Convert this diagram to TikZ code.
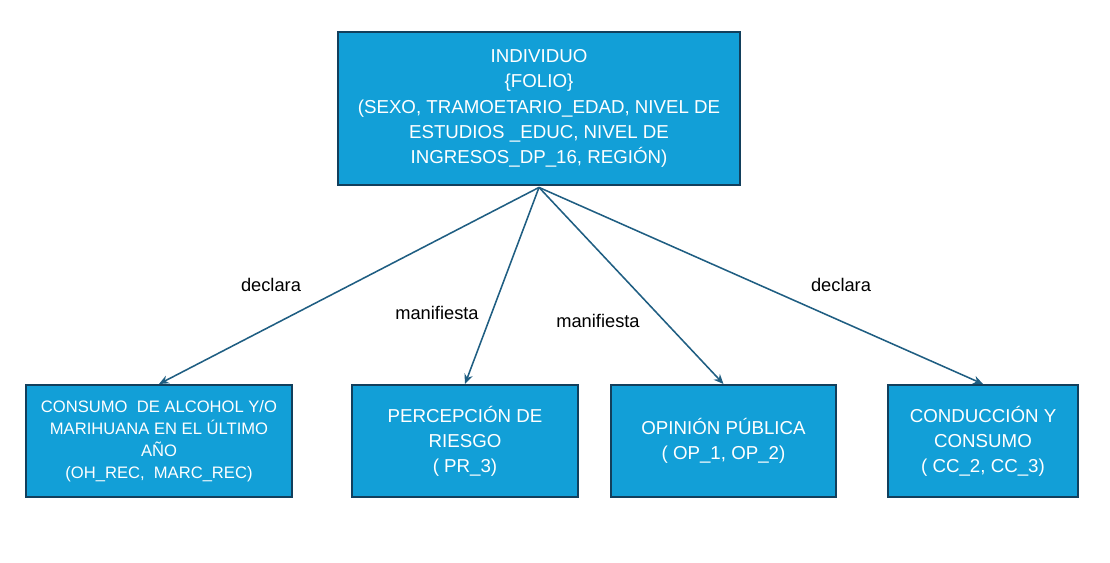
\documentclass[tikz,border=0pt]{standalone}
\usepackage{fontspec}
\setmainfont{Liberation Sans}
\usepackage{xcolor}
\usepackage{tikz}
\usetikzlibrary{arrows.meta,positioning}
\definecolor{boxFill}{HTML}{129FD7}
\definecolor{boxEdge}{HTML}{123F5C}
\definecolor{linkBlue}{HTML}{1F5E82}

\begin{document}
\begin{tikzpicture}[
        x=0.025cm, y=-0.025cm,
        font=\fontsize{13.3}{17.9}\selectfont,
        entity/.style={draw=boxEdge, line width=1.4pt, fill=boxFill, text=white, inner sep=0pt, minimum height=2.8cm, align=center},
        small/.style={font=\fontsize{11.8}{15.6}\selectfont},
        rel/.style={-{Stealth[length=7pt,width=6pt]}, line width=1.1pt, draw=linkBlue},
        tag/.style={font=\fontsize{13}{16}\selectfont}
    ]
        \useasboundingbox (0,0) rectangle (1110,562);

        % --- main entity ---
        \node[entity, minimum width=10.05cm, minimum height=3.825cm] (indiv) at (539,108.5)
            {INDIVIDUO\\\{FOLIO\}\\(SEXO, TRAMOETARIO\_EDAD, NIVEL DE\\ESTUDIOS \_EDUC, NIVEL DE\\INGRESOS\_DP\_16, REGIÓN)};

        % --- related entities ---
        \node[entity, small, minimum width=6.65cm] (consumo) at (159,441)
            {CONSUMO\ \ DE ALCOHOL Y/O\\MARIHUANA EN EL ÚLTIMO\\AÑO\\(OH\_REC,\ \ MARC\_REC)};
        \node[entity, minimum width=5.65cm] (riesgo) at (465,441) {PERCEPCIÓN DE\\RIESGO\\( PR\_3)};
        \node[entity, minimum width=5.625cm] (opinion) at (723.5,441) {OPINIÓN PÚBLICA\\( OP\_1, OP\_2)};
        \node[entity, minimum width=4.75cm] (conduc) at (983,441) {CONDUCCIÓN Y\\CONSUMO\\( CC\_2, CC\_3)};

        % --- relations ---
        \coordinate (src) at ([yshift=-1pt]indiv.south);
        \draw[rel] (src) -- (consumo.north);
        \draw[rel] (src) -- (riesgo.north);
        \draw[rel] (src) -- (opinion.north);
        \draw[rel] (src) -- (conduc.north);

        \node[tag] (r1) at (271,285) {declara};
        \node[tag] (r2) at (437,313) {manifiesta};
        \node[tag] (r3) at (598,321) {manifiesta};
        \node[tag] (r4) at (841,285) {declara};
    \end{tikzpicture}
\end{document}
